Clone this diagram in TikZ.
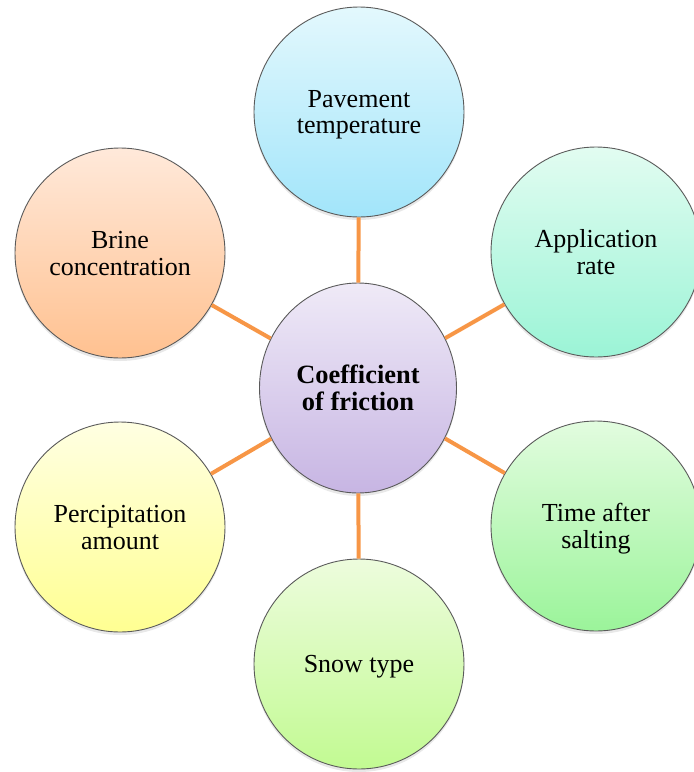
\documentclass[tikz,border=0pt]{standalone}
\usepackage{fontspec}
\setmainfont{Liberation Serif}
\usepackage{tikz}
\usetikzlibrary{shapes.geometric, shadows}

\definecolor{linkorange}{HTML}{F79646}
\definecolor{rimgray}{HTML}{5A5A5A}
\definecolor{hubtop}{HTML}{EFEAF7}\definecolor{hubbot}{HTML}{C7B5E3}
\definecolor{paventop}{HTML}{E3F8FD}\definecolor{pavenbot}{HTML}{A2E5FA}
\definecolor{ratetop}{HTML}{E2FCF1}\definecolor{ratebot}{HTML}{9BF4D6}
\definecolor{timetop}{HTML}{E2FCDF}\definecolor{timebot}{HTML}{9BF49A}
\definecolor{snowtop}{HTML}{EDFCDD}\definecolor{snowbot}{HTML}{C2FA92}
\definecolor{preciptop}{HTML}{FFFFE2}\definecolor{precipbot}{HTML}{FFFF92}
\definecolor{brinetop}{HTML}{FFE9DA}\definecolor{brinebot}{HTML}{FFC190}

\begin{document}
\begin{tikzpicture}[x=0.5pt,y=-0.5pt,
				factor/.style={circle, inner sep=0pt, minimum size=105pt, draw=rimgray, line width=0.45pt, align=center,
					font=\fontsize{13}{13.4}\selectfont, text depth=0pt,
					drop shadow={opacity=0.18, shadow xshift=0pt, shadow yshift=-1.5pt}},
				hub/.style={ellipse, inner sep=0pt, minimum width=98.5pt, minimum height=105pt, draw=rimgray, line width=0.45pt, align=center,
					font=\fontsize{13.2}{13.4}\selectfont\bfseries, text depth=0pt,
					drop shadow={opacity=0.18, shadow xshift=0pt, shadow yshift=-1.5pt}},
				link/.style={draw=linkorange, line width=2pt}]
					\useasboundingbox (0,0) rectangle (694,772);
					% hub and the six factors
					\node[hub, top color=hubtop, bottom color=hubbot] (friction) at (358,388) {Coefficient\\of friction};
					\node[factor, top color=paventop, bottom color=pavenbot] (pavement) at (359,112) {Pavement\\temperature};
					\node[factor, top color=ratetop, bottom color=ratebot] (rate) at (596,252) {Application\\rate};
					\node[factor, top color=timetop, bottom color=timebot] (time) at (596,526) {Time after\\salting};
					\node[factor, top color=snowtop, bottom color=snowbot] (snow) at (359,664) {Snow type};
					\node[factor, top color=preciptop, bottom color=precipbot] (precip) at (120,527) {Percipitation\\amount};
					\node[factor, top color=brinetop, bottom color=brinebot] (brine) at (120,253) {Brine\\concentration};
					% spokes
					\foreach \f in {pavement, rate, time, snow, precip, brine}
						\draw[link] (friction) -- (\f);
				\end{tikzpicture}
\end{document}
